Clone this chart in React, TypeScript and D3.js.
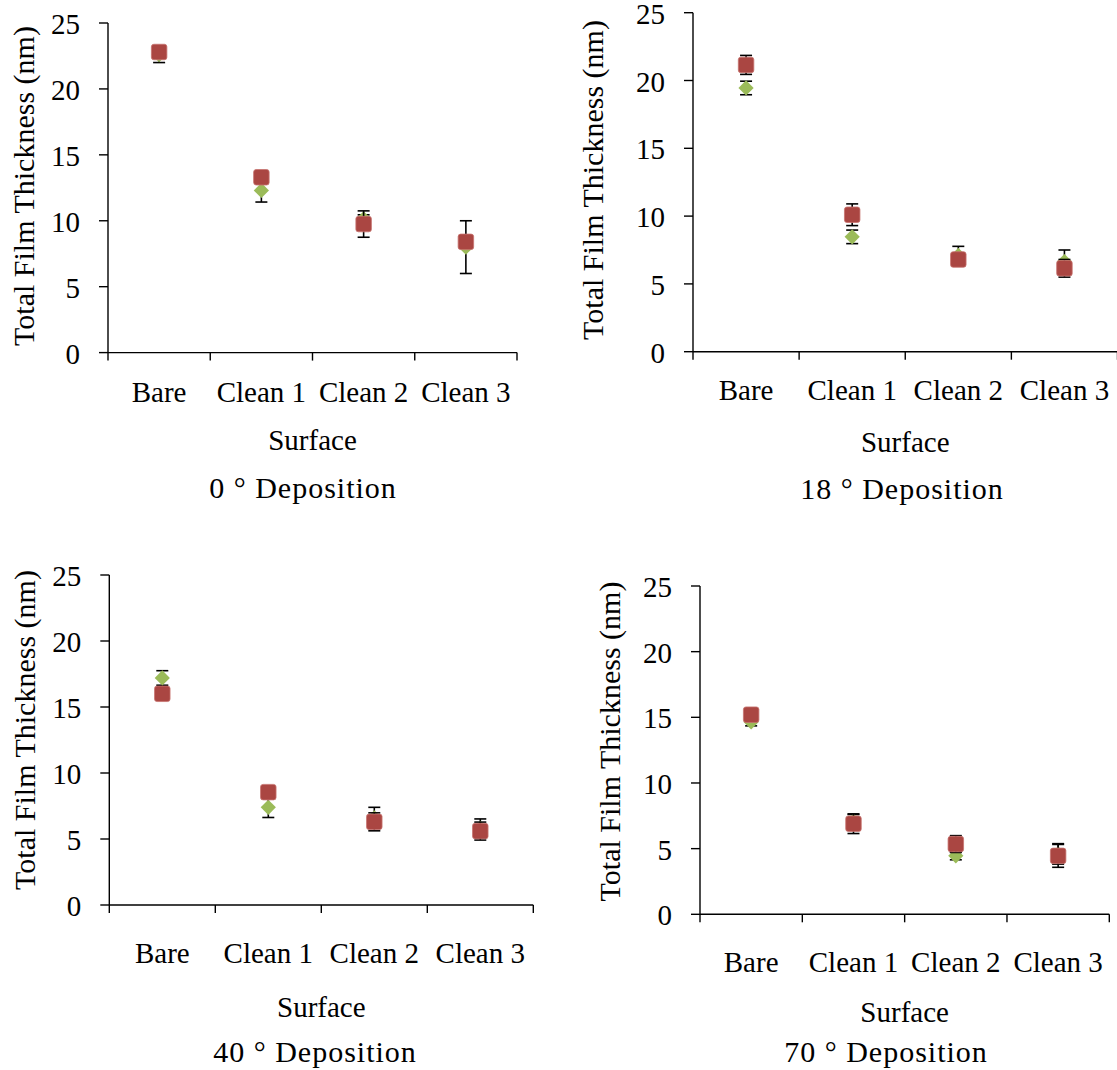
import React from "react";
import * as d3 from "d3";

const categories = ["Bare", "Clean 1", "Clean 2", "Clean 3"];
const yTicks = [0, 5, 10, 15, 20, 25];
const panelTitles = ["0 ° Deposition", "18 ° Deposition", "40 ° Deposition", "70 ° Deposition"];
const xAxisTitle = "Surface";
const yAxisTitle = "Total Film Thickness (nm)";

// green diamonds
const green0 = [22.6, 12.3, 10.15, 8.0];
const greenErr0 = [0.6, 0.88, 0.3, 2.0];
const green18 = [19.45, 8.47, 7.1, 6.65];
const greenErr18 = [0.5, 0.5, 0.67, 0.85];
const green40 = [17.2, 7.4, 6.6, 5.8];
const greenErr40 = [0.55, 0.77, 0.8, 0.72];
const green70 = [14.65, 7.1, 4.45, 4.6];
const greenErr70 = [0.3, 0.5, 0.3, 0.78];

// red squares
const red0 = [22.8, 13.3, 9.75, 8.4];
const redErr0 = [0.3, 0.3, 1.0, 0.3];
const red18 = [21.15, 10.1, 6.8, 6.15];
const redErr18 = [0.7, 0.8, 0.3, 0.65];
const red40 = [16.0, 8.55, 6.3, 5.6];
const redErr40 = [0.3, 0.3, 0.68, 0.68];
const red70 = [15.2, 6.9, 5.35, 4.45];
const redErr70 = [0.3, 0.75, 0.64, 0.87];

const greenSeries = [green0, green18, green40, green70];
const greenErrs = [greenErr0, greenErr18, greenErr40, greenErr70];
const redSeries = [red0, red18, red40, red70];
const redErrs = [redErr0, redErr18, redErr40, redErr70];

// layout per panel
const layouts = [
  { x0: 108, x1: 517, yBottom: 352.6, yTop: 23, yTitleX: 34, yTitleY: 186, catOff: 49, surfOff: 97.5, titleOff: 145.5, titleX: 303 },
  { x0: 693, x1: 1117.5, yBottom: 351.7, yTop: 12.7, yTitleX: 603, yTitleY: 180, catOff: 48.5, surfOff: 100, titleOff: 147, titleX: 902 },
  { x0: 109.3, x1: 533.3, yBottom: 905, yTop: 575, yTitleX: 35, yTitleY: 730, catOff: 58, surfOff: 112, titleOff: 157, titleX: 315 },
  { x0: 700, x1: 1109.3, yBottom: 914.3, yTop: 586, yTitleX: 620, yTitleY: 741.5, catOff: 57.4, surfOff: 107.4, titleOff: 147.4, titleX: 886 },
];

const FONT = "'Liberation Serif', 'Times New Roman', serif";
const GREEN = "#9BBB59";
const RED = "#AA4642";

function Panel({ idx }: { idx: number }) {
  const L = layouts[idx];
  const x = d3.scaleBand<string>().domain(categories).range([L.x0, L.x1]).padding(0);
  const y = d3.scaleLinear().domain([0, 25]).range([L.yBottom, L.yTop]);
  const cx = (c: string) => (x(c) as number) + x.bandwidth() / 2;
  const g = greenSeries[idx];
  const ge = greenErrs[idx];
  const r = redSeries[idx];
  const re = redErrs[idx];
  const cap = 6;
  const sq = 15.5;
  const dm = 7.6;
  const boundaries = [...categories.map((c) => x(c) as number), L.x1];
  const errBar = (xc: number, v: number, e: number, key: string) => (
    <g key={key} stroke="#000" strokeWidth={1.6}>
      <line x1={xc} x2={xc} y1={y(v + e)} y2={y(v - e)} />
      <line x1={xc - cap} x2={xc + cap} y1={y(v + e)} y2={y(v + e)} />
      <line x1={xc - cap} x2={xc + cap} y1={y(v - e)} y2={y(v - e)} />
    </g>
  );
  return (
    <g>
      {/* y axis */}
      <line x1={L.x0} x2={L.x0} y1={L.yTop} y2={L.yBottom} stroke="#000" strokeWidth={1.4} />
      {yTicks.map((t) => (
        <g key={"yt" + t}>
          <line x1={L.x0 - 9} x2={L.x0} y1={y(t)} y2={y(t)} stroke="#000" strokeWidth={1.4} />
          <text x={L.x0 - 28} y={y(t) + 11} textAnchor="end" fontFamily={FONT} fontSize={29} fill="#000">
            {t}
          </text>
        </g>
      ))}
      {/* x axis */}
      <line x1={L.x0} x2={L.x1} y1={L.yBottom} y2={L.yBottom} stroke="#000" strokeWidth={1.4} />
      {boundaries.map((b, i) => (
        <line key={"xt" + i} x1={b} x2={b} y1={L.yBottom} y2={L.yBottom + 8} stroke="#000" strokeWidth={1.4} />
      ))}
      {categories.map((c) => (
        <text key={"cl" + c} x={cx(c)} y={L.yBottom + L.catOff} textAnchor="middle" fontFamily={FONT} fontSize={29} fill="#000">
          {c}
        </text>
      ))}
      <text x={(L.x0 + L.x1) / 2} y={L.yBottom + L.surfOff} textAnchor="middle" fontFamily={FONT} fontSize={29} fill="#000">
        {xAxisTitle}
      </text>
      <text x={L.titleX} y={L.yBottom + L.titleOff} textAnchor="middle" fontFamily={FONT} fontSize={30} letterSpacing={1} fill="#000">
        {panelTitles[idx]}
      </text>
      <text
        transform={`translate(${L.yTitleX},${L.yTitleY}) rotate(-90)`}
        textAnchor="middle"
        fontFamily={FONT}
        fontSize={30}
        fill="#000"
      >
        {yAxisTitle}
      </text>
      {/* green series */}
      {categories.map((c, i) => errBar(cx(c), g[i], ge[i], "ge" + i))}
      {categories.map((c, i) => {
        const xc = cx(c);
        const yc = y(g[i]);
        return (
          <path
            key={"gd" + i}
            d={`M${xc},${yc - dm} L${xc + dm},${yc} L${xc},${yc + dm} L${xc - dm},${yc} Z`}
            fill={GREEN}
          />
        );
      })}
      {/* red series */}
      {categories.map((c, i) => errBar(cx(c), r[i], re[i], "re" + i))}
      {categories.map((c, i) => {
        const xc = cx(c);
        const yc = y(r[i]);
        return (
          <rect
            key={"rs" + i}
            x={xc - sq / 2}
            y={yc - sq / 2}
            width={sq}
            height={sq}
            rx={2.5}
            fill={RED}
            stroke="#C7726E"
            strokeWidth={0.8}
          />
        );
      })}
    </g>
  );
}

export default function App() {
  return (
    <svg
      width={1117}
      height={1070}
      viewBox="0 0 1117 1070"
      style={{ position: "absolute", left: 0, top: 0, display: "block", background: "#fff" }}
    >
      <rect x={0} y={0} width={1117} height={1070} fill="#fff" />
      {[0, 1, 2, 3].map((i) => (
        <Panel key={i} idx={i} />
      ))}
    </svg>
  );
}
